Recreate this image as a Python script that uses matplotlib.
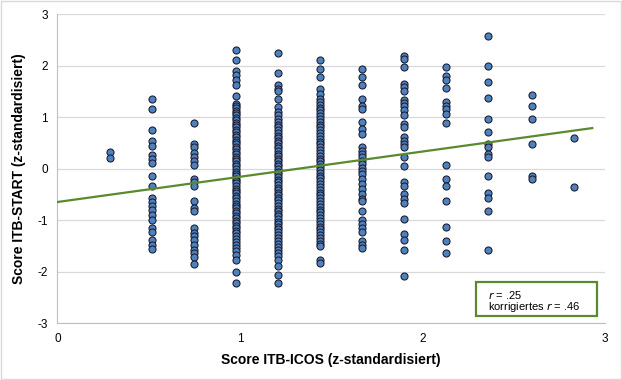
import matplotlib.pyplot as plt
import numpy as np

# x levels (Score ITB-ICOS) and the z-scores read for each column
x_levels = [0.29, 0.52, 0.75, 0.98, 1.21, 1.44, 1.67, 1.90, 2.13, 2.36, 2.60, 2.83]

col_029 = [0.32, 0.21]
col_052 = [1.35, 1.16, 0.74, 0.54, 0.44, 0.26, 0.18, 0.10, -0.15, -0.33, -0.57, -0.65,
           -0.72, -0.81, -0.91, -0.99, -1.15, -1.23, -1.38, -1.48, -1.56]
col_075 = [0.88, 0.48, 0.41, 0.31, 0.22, 0.15, 0.07, -0.21, -0.27, -0.34, -0.63, -0.76,
           -0.83, -1.15, -1.25, -1.32, -1.39, -1.48, -1.58, -1.64, -1.72, -1.86]
col_098 = [2.30, 2.10, 1.89, 1.81, 1.71, 1.62, 1.41,
           1.26, 1.21, 1.17, 1.12, 1.08, 1.03, 0.98, 0.94, 0.89, 0.84, 0.80, 0.75, 0.70,
           0.66, 0.61, 0.56, 0.51, 0.47, 0.42, 0.37, 0.33, 0.28, 0.23, 0.18, 0.14, 0.09,
           0.04, -0.01, -0.06, -0.10, -0.15, -0.20, -0.25, -0.29, -0.34, -0.39, -0.44,
           -0.48, -0.53, -0.58, -0.63, -0.68, -0.72, -0.77, -0.82, -0.87, -0.92, -0.96,
           -1.01, -1.06, -1.11, -1.16, -1.21, -1.26, -1.31, -1.36, -1.42, -1.48, -1.54,
           -1.61, -1.67, -1.77, -2.00, -2.23]
col_121 = [2.25, 1.86, 1.63, 1.55, 1.50, 1.36, 1.19, 1.09, 1.03, 0.96,
           0.90, 0.85, 0.80, 0.74, 0.69, 0.64, 0.59, 0.54, 0.49, 0.44, 0.39, 0.34, 0.29,
           0.24, 0.19, 0.14, 0.09, 0.04, -0.01, -0.06, -0.11, -0.16, -0.22, -0.27, -0.32,
           -0.37, -0.42, -0.47, -0.52, -0.57, -0.62, -0.67, -0.72, -0.78, -0.83, -0.88,
           -0.93, -0.98, -1.03, -1.08, -1.13, -1.18, -1.23, -1.29, -1.34, -1.40, -1.46,
           -1.52, -1.58, -1.64, -1.70, -1.77, -1.90, -2.07, -2.23]
col_144 = [2.10, 1.93, 1.78, 1.55, 1.45, 1.36,
           1.29, 1.24, 1.18, 1.13, 1.07, 1.02, 0.96, 0.91, 0.85, 0.80, 0.74, 0.69, 0.63,
           0.58, 0.52, 0.47, 0.41, 0.36, 0.30, 0.25, 0.19, 0.14, 0.08, 0.03, -0.03, -0.08,
           -0.14, -0.19, -0.25, -0.30, -0.36, -0.41, -0.47, -0.52, -0.58, -0.63, -0.69,
           -0.74, -0.80, -0.85, -0.91, -0.96, -1.02, -1.07, -1.13, -1.18, -1.24, -1.29,
           -1.35, -1.40, -1.46, -1.51, -1.77, -1.84]
col_167 = [1.94, 1.78, 1.63, 1.36, 1.21, 1.16, 0.90, 0.77, 0.67, 0.41, 0.35, 0.28, 0.22,
           0.15, 0.09, 0.02, -0.05, -0.11, -0.21, -0.31, -0.40, -0.50, -0.60, -0.63,
           -0.83, -0.99, -1.07, -1.15, -1.23, -1.40, -1.48, -1.54]
col_190 = [2.19, 2.12, 1.97, 1.65, 1.58, 1.50, 1.34, 1.28, 1.21, 1.13, 1.03, 0.87, 0.80,
           0.61, 0.54, 0.48, 0.41, 0.22, 0.05, -0.26, -0.34, -0.50, -0.60, -0.66, -0.98,
           -1.28, -1.38, -1.59, -2.08]
col_213 = [1.97, 1.80, 1.71, 1.56, 1.30, 1.21, 1.15, 1.06, 0.89, 0.07, -0.21, -0.34,
           -0.63, -1.13, -1.41, -1.65]
col_236 = [2.58, 1.99, 1.68, 1.37, 0.96, 0.70, 0.48, 0.41, 0.28, 0.22, -0.14, -0.48,
           -0.57, -0.83, -1.58]
col_260 = [1.43, 1.21, 0.96, 0.48, -0.14, -0.20]
col_283 = [0.59, -0.35]

columns = [col_029, col_052, col_075, col_098, col_121, col_144,
           col_167, col_190, col_213, col_236, col_260, col_283]

# linear trend
trend_x = [0.0, 2.93]
trend_intercept = -0.65
trend_slope = 0.49

plt.rcParams['font.family'] = ['Liberation Sans', 'DejaVu Sans']
plt.rcParams['axes.unicode_minus'] = False

green = '#5A8A2E'

fig = plt.figure(figsize=(6.22, 3.80), dpi=100)
ax = fig.add_axes([0.0924, 0.150, 0.8803, 0.813])

for xv, ys in zip(x_levels, columns):
    ax.scatter([xv] * len(ys), ys, s=26, color='#4F81BD', edgecolor='#1a1a2e',
               linewidth=0.75, zorder=3)

tx = np.array(trend_x)
ax.plot(tx, trend_intercept + trend_slope * tx, color=green, lw=1.6, zorder=4)

ax.set_xlim(0, 3)
ax.set_ylim(-3, 3)
ax.set_xticks([0, 1, 2, 3])
ax.set_yticks([-3, -2, -1, 0, 1, 2, 3])
ax.tick_params(length=0, labelsize=8.5, pad=7)
ax.yaxis.grid(True, color='#D9D9D9', lw=0.9)
ax.set_axisbelow(True)
for side in ['top', 'right']:
    ax.spines[side].set_visible(False)
ax.spines['left'].set_color('#BFBFBF')
ax.spines['bottom'].set_color('#BFBFBF')

ax.set_xlabel('Score ITB-ICOS (z-standardisiert)', fontsize=10, fontweight='bold', labelpad=6)
ax.set_ylabel('Score ITB-START (z-standardisiert)', fontsize=10, fontweight='bold', labelpad=8)

# annotation box
ax.add_patch(plt.Rectangle((0.764, 0.023), 0.221, 0.110, transform=ax.transAxes,
                           fc='white', ec=green, lw=1.6, zorder=5, clip_on=False))
ax.text(0.786, 0.091, r'$\it{r}$ = .25', transform=ax.transAxes, fontsize=8,
        va='center', ha='left', zorder=6)
ax.text(0.786, 0.052, r'korrigiertes $\it{r}$ = .46', transform=ax.transAxes, fontsize=8,
        va='center', ha='left', zorder=6)

fig.patches.append(plt.Rectangle((0.002, 0.003), 0.996, 0.994, transform=fig.transFigure,
                                 fill=False, ec='#D9D9D9', lw=1))

fig.savefig('out.png', dpi=100)
